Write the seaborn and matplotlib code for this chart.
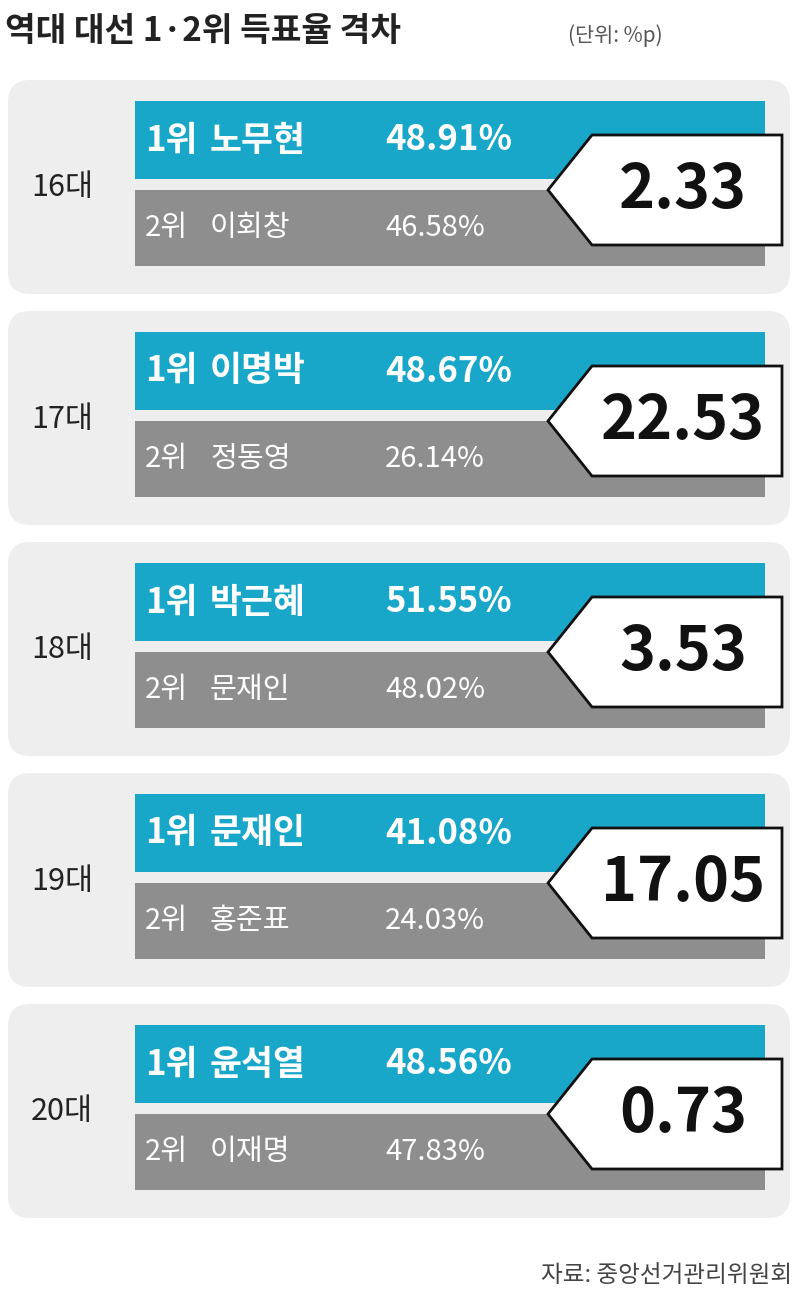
import matplotlib.pyplot as plt
import seaborn as sns
from matplotlib.patches import FancyBboxPatch, Polygon

elections = ['16대', '17대', '18대', '19대', '20대']
winners = ['노무현', '이명박', '박근혜', '문재인', '윤석열']
winner_pct = [48.91, 48.67, 51.55, 41.08, 48.56]
runners = ['이회창', '정동영', '문재인', '홍준표', '이재명']
runner_pct = [46.58, 26.14, 48.02, 24.03, 47.83]
gaps = ['2.33', '22.53', '3.53', '17.05', '0.73']

BLUE = '#19a7c9'
GRAY = '#8e8e8e'
PANEL = '#eeeeee'

sns.set_theme(style='white')
plt.rcParams['font.family'] = ['Noto Sans CJK KR', 'DejaVu Sans']

fig = plt.figure(figsize=(8, 13.04), dpi=100)
ax = fig.add_axes([0, 0, 1, 1])
ax.set_xlim(0, 800)
ax.set_ylim(1304, 0)
ax.axis('off')

ax.text(5, 32, '역대 대선 1·2위 득표율 격차', fontsize=24, fontweight='heavy',
        va='center', ha='left', color='#222222')
ax.text(568, 36, '(단위: %p)', fontsize=15, va='center', ha='left', color='#555555')

step = 231
for i, (el, w, wp, r, rp, g) in enumerate(zip(elections, winners, winner_pct,
                                              runners, runner_pct, gaps)):
    t = 80 + i * step
    ax.add_patch(FancyBboxPatch((8, t), 782, 214, boxstyle='round,pad=0,rounding_size=22',
                                fc=PANEL, ec='none'))
    ax.text(62, t + 108, el, fontsize=22, fontweight='medium', va='center', ha='center',
            color='#222222')
    ax.barh(t + 60, 630, height=78, left=135, color=BLUE, edgecolor='none')
    ax.barh(t + 148, 630, height=76, left=135, color=GRAY, edgecolor='none')
    for y, rank, name, pct, wt in [(t + 60, '1위', w, wp, 'bold'),
                                   (t + 148, '2위', r, rp, 'medium')]:
        fs = 25 if rank == '1위' else 21
        ax.text(145, y, rank, fontsize=fs, fontweight=wt, va='center', color='white')
        ax.text(210, y, name, fontsize=fs, fontweight=wt, va='center', color='white')
        ax.text(385, y, f'{pct:.2f}%', fontsize=fs, fontweight=wt, va='center', color='white')
    tip = t + 110
    ax.add_patch(Polygon([(548, tip), (592, t + 55), (782, t + 55), (782, t + 165),
                          (592, t + 165)], closed=True, fc='white', ec='#111111', lw=2))
    ax.text(683, tip, g, fontsize=44, fontweight='heavy', va='center', ha='center',
            color='#111111')

ax.text(792, 1276, '자료: 중앙선거관리위원회', fontsize=17, va='center', ha='right',
        color='#444444')

fig.savefig('out.png', dpi=100)
